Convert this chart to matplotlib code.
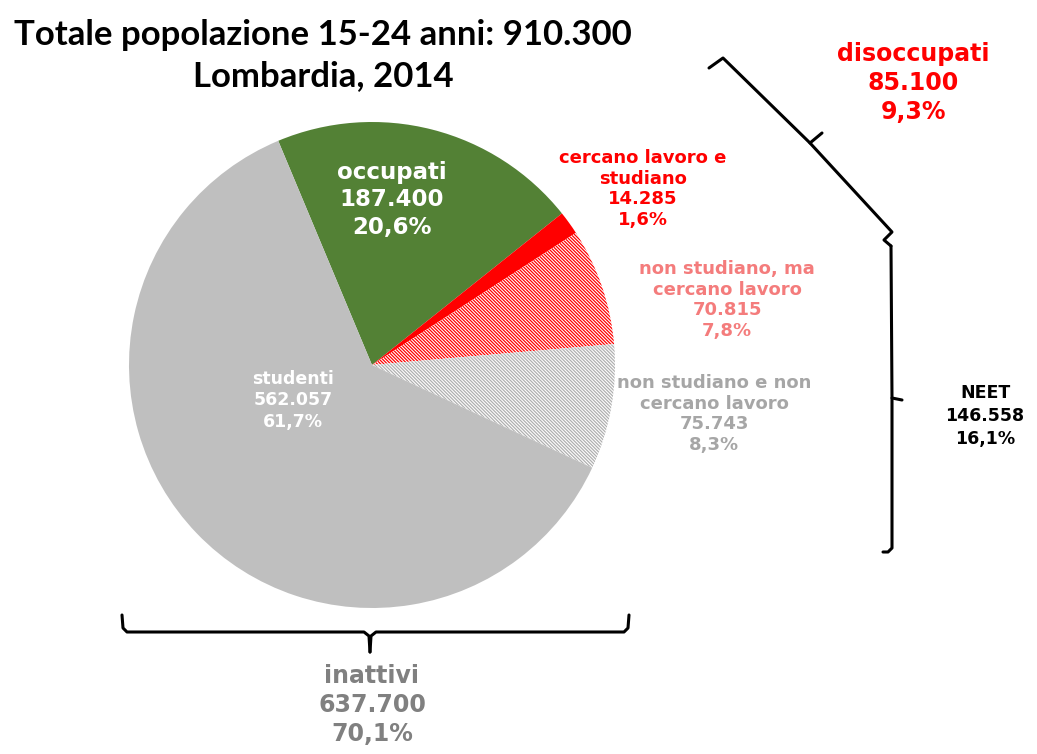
import matplotlib.pyplot as plt

# dati (Lombardia 2014, 15-24 anni)
categorie = ['occupati', 'cercano lavoro e studiano', 'non studiano, ma cercano lavoro',
             'non studiano e non cercano lavoro', 'studenti']
valori = [187400, 14285, 70815, 75743, 562057]
percentuali = ['20,6%', '1,6%', '7,8%', '8,3%', '61,7%']
valori_txt = ['187.400', '14.285', '70.815', '75.743', '562.057']

gruppi = ['disoccupati', 'NEET', 'inattivi']
gruppi_val = ['85.100', '146.558', '637.700']
gruppi_pct = ['9,3%', '16,1%', '70,1%']

W, H = 1037, 754
VERDE = '#538135'
ROSSO = '#ff0000'
ROSA = '#f47c7c'
GRIGIO = '#bfbfbf'
GRIGIO_T = '#a6a6a6'
GRIGIO_S = '#808080'

plt.rcParams['font.family'] = ['DejaVu Sans']
plt.rcParams['hatch.linewidth'] = 0.9

fig = plt.figure(figsize=(W / 100, H / 100), dpi=100)
ax = fig.add_axes([0, 0, 1, 1])


def Y(y):
    # coordinate pixel (dall'alto) -> coordinate assi (dal basso)
    return H - y


cx, cy, r = 372, 365, 243
wedges, _ = ax.pie(valori, startangle=112.7, counterclock=False,
                   center=(cx, Y(cy)), radius=r,
                   colors=[VERDE, ROSSO, 'white', 'white', GRIGIO],
                   wedgeprops=dict(linewidth=0))
wedges[2].set_hatch('\\' * 10)
wedges[2].set_edgecolor(ROSSO)
wedges[3].set_hatch('\\' * 10)
wedges[3].set_edgecolor('#b0b0b0')

ax.set_xlim(0, W)
ax.set_ylim(0, H)
ax.set_aspect('auto')
ax.axis('off')

# titolo
ax.text(323, Y(35), 'Totale popolazione 15-24 anni: 910.300', family='Lato',
        fontsize=25, fontweight='bold', ha='center', va='center')
ax.text(323, Y(76), 'Lombardia, 2014', family='Lato',
        fontsize=25, fontweight='bold', ha='center', va='center')

# etichette delle fette
ax.text(392, Y(200), f'{categorie[0]}\n{valori_txt[0]}\n{percentuali[0]}', color='white',
        fontsize=16.5, fontweight='bold', ha='center', va='center', linespacing=1.25)
ax.text(643, Y(189), f'cercano lavoro e\nstudiano\n{valori_txt[1]}\n{percentuali[1]}', color=ROSSO,
        fontsize=13, fontweight='bold', ha='center', va='center', linespacing=1.2)
ax.text(727, Y(300), f'non studiano, ma\ncercano lavoro\n{valori_txt[2]}\n{percentuali[2]}', color=ROSA,
        fontsize=13, fontweight='bold', ha='center', va='center', linespacing=1.2)
ax.text(714, Y(414), f'non studiano e non\ncercano lavoro\n{valori_txt[3]}\n{percentuali[3]}', color=GRIGIO_T,
        fontsize=13, fontweight='bold', ha='center', va='center', linespacing=1.2)
ax.text(293, Y(400), f'{categorie[4]}\n{valori_txt[4]}\n{percentuali[4]}', color='white',
        fontsize=12.5, fontweight='bold', ha='center', va='center', linespacing=1.25)

# gruppi
ax.text(913, Y(83), f'{gruppi[0]}\n{gruppi_val[0]}\n{gruppi_pct[0]}', color=ROSSO,
        fontsize=17, fontweight='bold', ha='center', va='center', linespacing=1.25)
ax.text(985, Y(416), f'{gruppi[1]}\n{gruppi_val[1]}\n{gruppi_pct[1]}', color='black',
        fontsize=12.5, fontweight='bold', ha='center', va='center', linespacing=1.35)
ax.text(372, Y(705), f'{gruppi[2]}\n{gruppi_val[2]}\n{gruppi_pct[2]}', color=GRIGIO_S,
        fontsize=17, fontweight='bold', ha='center', va='center', linespacing=1.25)

# parentesi graffe
lw = 2.2
def linea(pts):
    xs = [p[0] for p in pts]
    ys = [Y(p[1]) for p in pts]
    ax.plot(xs, ys, color='black', lw=lw, solid_joinstyle='round', solid_capstyle='round')

# inattivi (in basso)
linea([(122, 615), (123, 628), (127, 632), (364, 632), (369, 636), (370, 652)])
linea([(370, 652), (371, 636), (376, 632), (624, 632), (628, 628), (629, 615)])

# disoccupati (diagonale)
linea([(709, 68), (723, 58), (810, 143), (822, 133)])
linea([(810, 143), (892, 232), (884, 240), (891, 246)])

# NEET (verticale)
linea([(891, 246), (892, 398), (902, 400)])
linea([(892, 398), (892, 548), (888, 552), (883, 552)])

fig.savefig('out.png', dpi=100)
